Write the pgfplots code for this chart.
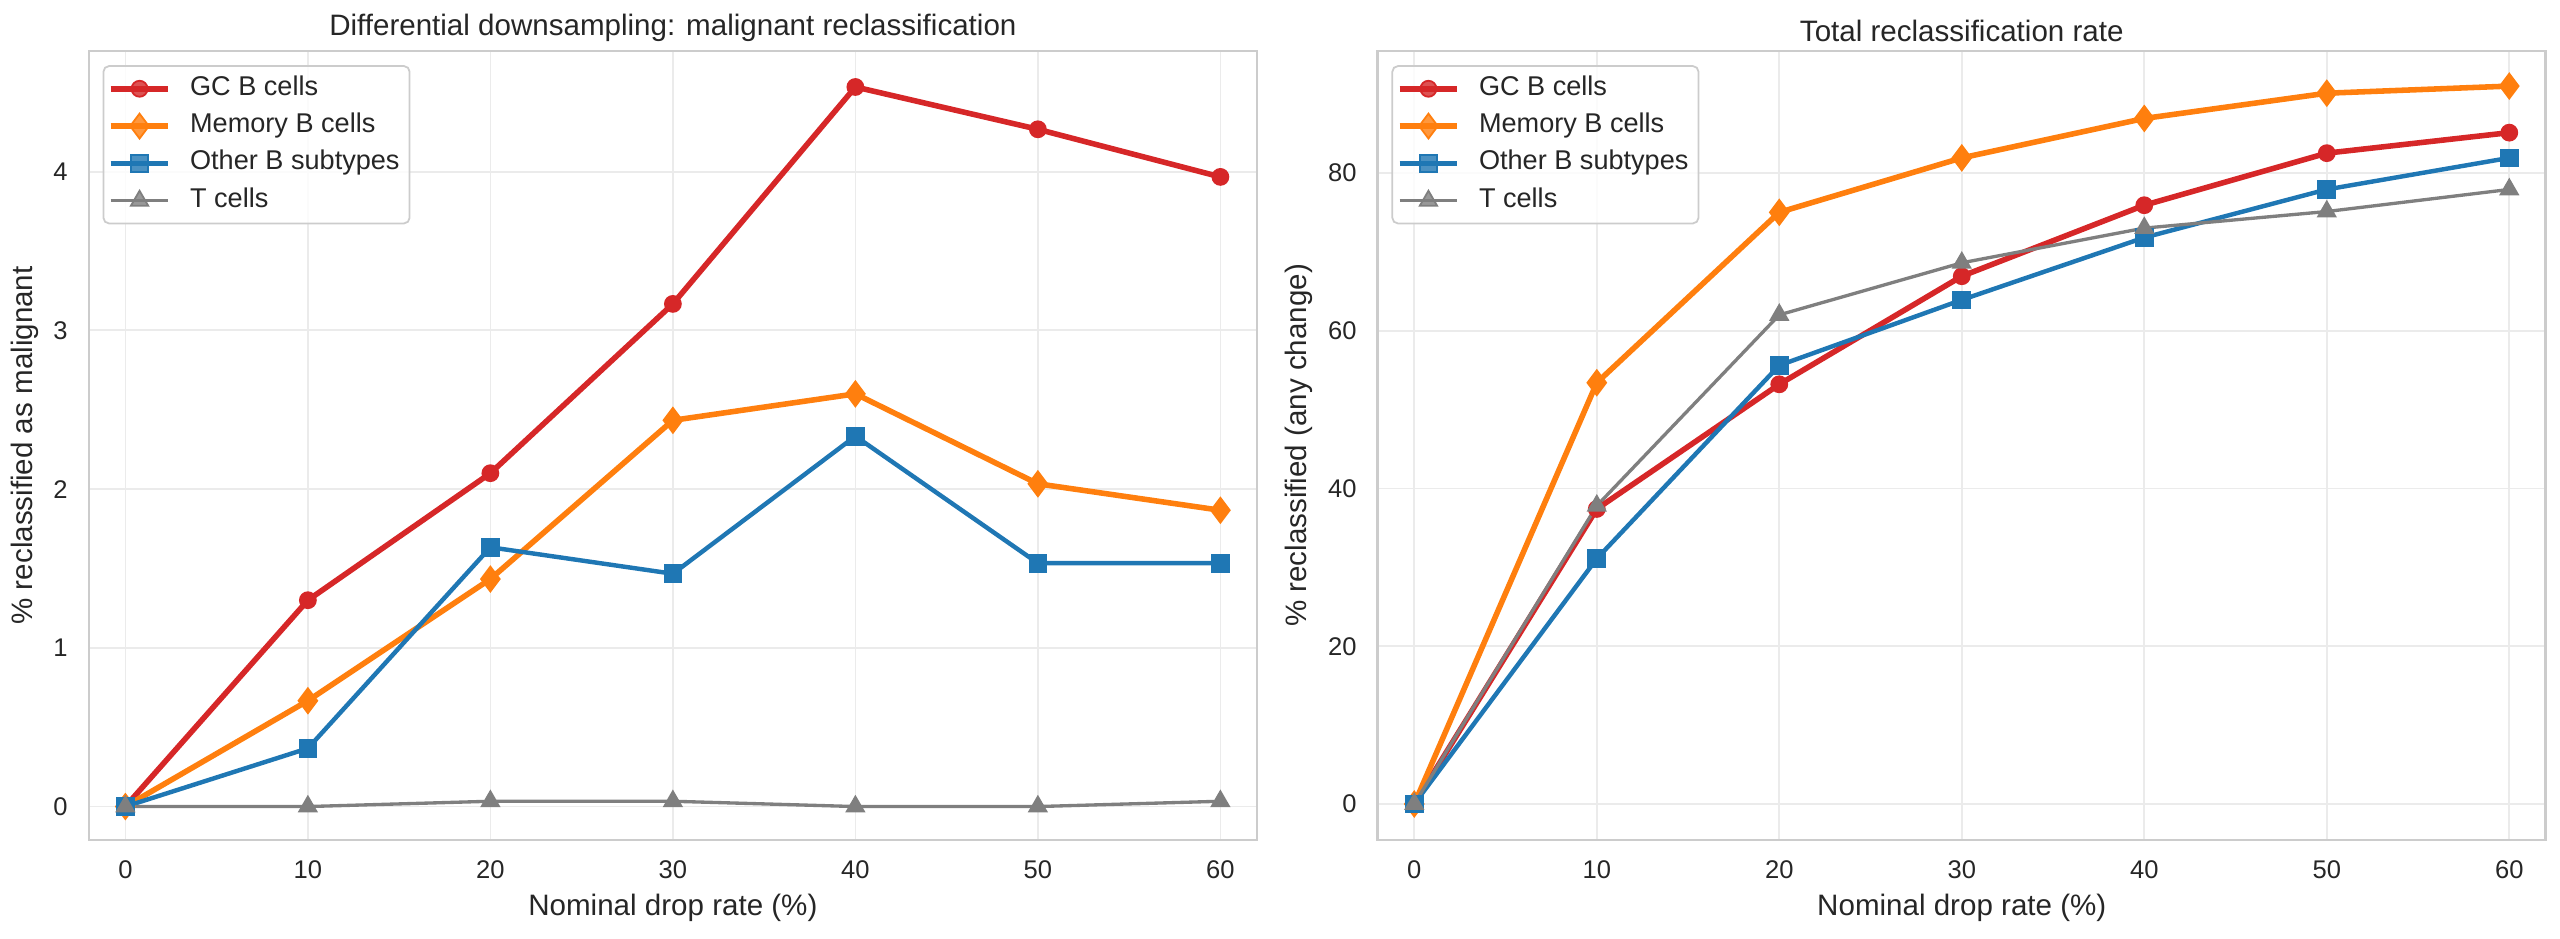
\documentclass[border=0pt]{standalone}
\usepackage{pgfplots}
\pgfplotsset{compat=1.18}
\usepackage{fontspec}
\setmainfont{Liberation Sans}

\definecolor{cRed}{HTML}{D62728}
\definecolor{cOrange}{HTML}{FF7F0E}
\definecolor{cBlue}{HTML}{1F77B4}
\definecolor{cGray}{HTML}{7F7F7F}
\definecolor{txt}{HTML}{262626}
\definecolor{edge}{HTML}{CCCCCC}
\definecolor{gridc}{HTML}{EBEBEB}

\pgfplotsset{
  panel/.style={
    scale only axis, width=525.6pt, height=355pt,
    xmin=-2, xmax=62,
    xtick={0,10,...,60},
    axis line style={edge, line width=1.2pt},
    grid=major, major grid style={gridc, line width=0.8pt},
    major tick length=0pt,
    tick label style={font=\fontsize{11.5}{13}\selectfont, text=txt},
    /pgf/number format/assume math mode=true,
    xticklabel style={yshift=-6pt},
    yticklabel style={xshift=-6pt},
    label style={font=\fontsize{13.3}{15}\selectfont, text=txt},
    title style={font=\fontsize{13.3}{15}\selectfont, text=txt, yshift=-5.5pt},
    xlabel={Nominal drop rate (\%)},
    legend cell align=left,
    legend style={at={(0.0117,0.982)}, anchor=north west,
      draw=edge, line width=0.8pt, rounded corners=2.5pt,
      fill=white, fill opacity=0.8, text opacity=1, text=txt,
      font=\fontsize{12.2}{14}\selectfont,
      nodes={text height=8.8pt, text depth=3pt, inner ysep=2.5pt, inner xsep=2.5pt},
      /tikz/every odd column/.append style={column sep=6pt},
      row sep=0pt, inner xsep=2pt, inner ysep=1.8pt},
    legend image code/.code={
      \draw[mark repeat=2, mark phase=2, ##1] plot coordinates {(0pt,0pt) (13pt,0pt) (26pt,0pt)};},
  },
  gc/.style={cRed, line width=2.5pt, mark=*, mark size=3.6pt, mark options={solid, line width=0.8pt}},
  mem/.style={cOrange, line width=2.5pt, mark=diamond*, mark size=5.6pt, mark options={solid, line width=0.8pt}},
  oth/.style={cBlue, line width=2pt, mark=square*, mark size=3.8pt, mark options={solid, line width=0.8pt}},
  tc/.style={cGray, line width=1.5pt, mark=triangle*, mark size=4.5pt, mark options={solid, line width=0.8pt}},
}

\begin{document}
\begin{tikzpicture}
\useasboundingbox (0,0) rectangle (1152pt,422.55pt);

\begin{axis}[panel, at={(40pt,44.6pt)}, anchor=south west,
  ymin=-0.21, ymax=4.76, ytick={0,1,2,3,4},
  title={Differential downsampling: malignant reclassification},
  ylabel={\% reclassified as malignant}]
\addplot[gc] coordinates {(0,0) (10,1.3) (20,2.1) (30,3.1667) (40,4.5333) (50,4.2667) (60,3.9667)};
\addlegendentry{GC B cells}
\addplot[mem] coordinates {(0,0) (10,0.6667) (20,1.4333) (30,2.4333) (40,2.6) (50,2.0333) (60,1.8667)};
\addlegendentry{Memory B cells}
\addplot[oth] coordinates {(0,0) (10,0.3667) (20,1.6333) (30,1.4667) (40,2.3333) (50,1.5333) (60,1.5333)};
\addlegendentry{Other B subtypes}
\addplot[tc] coordinates {(0,0) (10,0) (20,0.0333) (30,0.0333) (40,0) (50,0) (60,0.0333)};
\addlegendentry{T cells}
\end{axis}

\begin{axis}[panel, at={(620pt,44.6pt)}, anchor=south west,
  ymin=-4.55, ymax=95.45, ytick={0,20,40,60,80},
  title={Total reclassification rate},
  ylabel={\% reclassified (any change)}]
\addplot[gc] coordinates {(0,0) (10,37.4) (20,53.2) (30,66.9) (40,75.9) (50,82.5) (60,85.1)};
\addlegendentry{GC B cells}
\addplot[mem] coordinates {(0,0) (10,53.4) (20,75.0) (30,81.9) (40,86.9) (50,90.1) (60,91.0)};
\addlegendentry{Memory B cells}
\addplot[oth] coordinates {(0,0) (10,31.1) (20,55.6) (30,63.9) (40,71.8) (50,77.9) (60,81.9)};
\addlegendentry{Other B subtypes}
\addplot[tc] coordinates {(0,0) (10,37.8) (20,62.0) (30,68.6) (40,73.0) (50,75.1) (60,77.9)};
\addlegendentry{T cells}
\end{axis}
\end{tikzpicture}
\end{document}
